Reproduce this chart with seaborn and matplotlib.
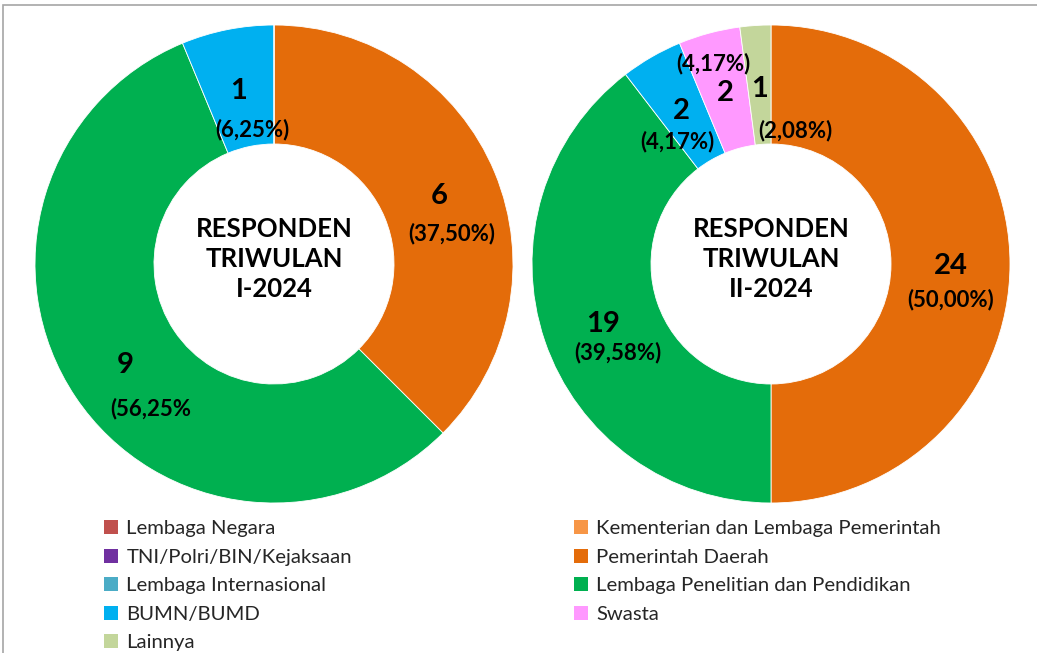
import matplotlib
matplotlib.use("Agg")
import matplotlib.pyplot as plt
import seaborn as sns
from matplotlib.patches import Patch, Rectangle

sns.set_theme(style="white")
plt.rcParams['font.family'] = ['Lato', 'DejaVu Sans']

# ---------------- data ----------------
categories = ["Lembaga Negara", "TNI/Polri/BIN/Kejaksaan", "Lembaga Internasional",
              "BUMN/BUMD", "Lainnya", "Kementerian dan Lembaga Pemerintah",
              "Pemerintah Daerah", "Lembaga Penelitian dan Pendidikan", "Swasta"]
category_colors = ["#C0504D", "#7030A0", "#4BACC6", "#00B0F0", "#C3D69B",
                   "#F79646", "#E46C0A", "#00B050", "#FF99FF"]

pie_categories = ["Pemerintah Daerah", "Lembaga Penelitian dan Pendidikan",
                  "BUMN/BUMD", "Swasta", "Lainnya"]
q1_values = [6, 9, 1, 0, 0]
q2_values = [24, 19, 2, 2, 1]
q1_pct = ["(37,50%)", "(56,25%", "(6,25%)", "", ""]
q2_pct = ["(50,00%)", "(39,58%)", "(4,17%)", "(4,17%)", "(2,08%)"]
q1_title = "RESPONDEN\nTRIWULAN\nI-2024"
q2_title = "RESPONDEN\nTRIWULAN\nII-2024"

# ---------------- layout (pixels) ----------------
W, H = 1037, 653
color_map = dict(zip(categories, category_colors))
pie_colors = [color_map[c] for c in pie_categories]

fig = plt.figure(figsize=(W / 100, H / 100), dpi=100)
ax = fig.add_axes([0, 0, 1, 1])

def Y(y):
    return H - y

donuts = [
    dict(values=q1_values, pct=q1_pct, title=q1_title, center=(274, 264),
         num_pos=[(439, 196), (125, 365), (239, 91)],
         pct_pos=[(452, 234), (151, 409), (252, 130)]),
    dict(values=q2_values, pct=q2_pct, title=q2_title, center=(771, 264),
         num_pos=[(951, 266), (603, 324), (681, 111), (725, 93), (760, 89)],
         pct_pos=[(951, 300), (618, 353), (677, 142), (713, 64), (795, 131)]),
]

R_OUT, WIDTH = 239, 119
for d in donuts:
    cx, cy = d["center"]
    ax.pie(d["values"], colors=pie_colors, startangle=90, counterclock=False,
           center=(cx, Y(cy)), radius=R_OUT,
           wedgeprops=dict(width=WIDTH, edgecolor="white", linewidth=0.6))
    for v, (x, y) in zip(d["values"], d["num_pos"]):
        if v:
            ax.text(x, Y(y), str(v), ha="center", va="center", fontsize=21,
                    fontweight="bold", color="black")
    for p, (x, y) in zip(d["pct"], d["pct_pos"]):
        if p:
            ax.text(x, Y(y), p, ha="center", va="center", fontsize=16,
                    fontweight="bold", color="black")
    ax.text(cx, Y(cy - 5), d["title"], ha="center", va="center", fontsize=18.5,
            fontweight="bold", color="black", linespacing=1.32)

ax.set_xlim(0, W)
ax.set_ylim(0, H)
ax.set_aspect("equal")
ax.axis("off")

# outer border (cropped on right and bottom)
fig.patches.append(Rectangle((3 / W, -0.1), 1.2, (H - 5) / H + 0.1,
                             transform=fig.transFigure, fill=False,
                             edgecolor="#A6A6A6", linewidth=1.2))

handles = [Patch(facecolor=color_map[c], edgecolor="none", label=c) for c in categories]
left = handles[:5]
right = handles[5:]
common = dict(frameon=False, fontsize=14.6, handlelength=0.7, handleheight=0.7,
              handletextpad=0.4, labelspacing=0.56, borderpad=0, borderaxespad=0)
leg1 = fig.legend(handles=left, loc="upper left",
                  bbox_to_anchor=(104 / W, 1 - 520 / H), **common)
leg2 = fig.legend(handles=right, loc="upper left",
                  bbox_to_anchor=(574 / W, 1 - 520 / H), **common)

fig.savefig("out.png", dpi=100)
